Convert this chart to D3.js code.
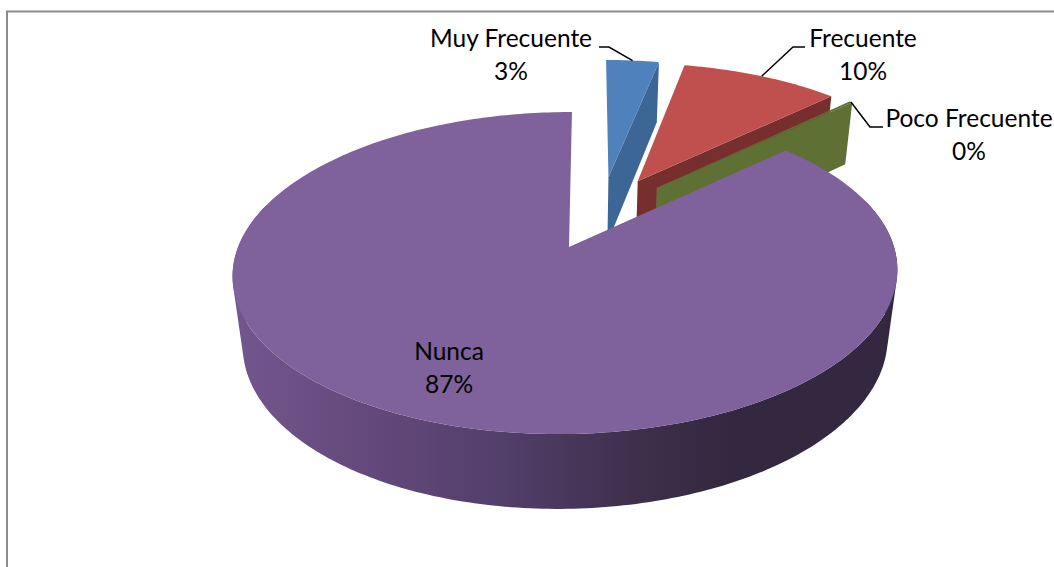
<!DOCTYPE html>
<html>
<head>
<meta charset="utf-8">
<script src="https://cdnjs.cloudflare.com/ajax/libs/d3/7.8.5/d3.min.js"></script>
<style>
  html, body { margin: 0; padding: 0; background: #fff; overflow: hidden; }
  text { font-family: Lato, "Open Sans", sans-serif; font-size: 24.5px; fill: #000; }
</style>
</head>
<body>
<div id="chart"></div>
<script>
// values (the 0% slice still has a thin sliver)
const categories = ["Muy Frecuente", "Frecuente", "Poco Frecuente", "Nunca"];
const values = [3.2, 9.65, 0.2, 86.95];
const topColors = ["#4f81bd", "#c0504d", "#5e7033", "#7f619b"];
const wallColors = ["#3c6696", "#772f2e", "#5e7033", "#5a4570"];

const width = 1054, height = 567;

const svg = d3.select("#chart").append("svg")
  .attr("width", width)
  .attr("height", height);

// frame of the chart area, it runs off the right and bottom of the crop
svg.append("path")
  .attr("d", `M7,${height}V11.5H${width}`)
  .attr("fill", "none")
  .attr("stroke", "#8c8c8c")
  .attr("stroke-width", 2);

const firstAngle = 0.6 * Math.PI / 180;
const pie = d3.pie().sort(null).value(d => d)
  .startAngle(firstAngle).endAngle(firstAngle + 2 * Math.PI)(values);

// perspective camera: u,v on the unit disc (v towards viewer), z=0 top face, z=1 bottom face
const originX = 569, radius = 328;
function project(u, v, z) {
  const w = 1 - 0.1615 * v + 0.012 * u + 0.03 * z;
  return [originX + radius * u / w, (116.9 * v + 247 + 78 * z) / w];
}

// all slices pull away from a shared centre by the same distance
const explode = 0.25;
const nunca = pie[3];
const nuncaMid = (nunca.startAngle + nunca.endAngle) / 2;
const hubU = -explode * Math.sin(nuncaMid);
const hubV = explode * Math.cos(nuncaMid);

function sliceCentre(p) {
  const mid = (p.startAngle + p.endAngle) / 2;
  return [hubU + explode * Math.sin(mid), hubV - explode * Math.cos(mid)];
}
function rimPoint(p, angle, z) {
  const c = sliceCentre(p);
  return project(c[0] + Math.sin(angle), c[1] - Math.cos(angle), z);
}
function arcAngles(a0, a1) {
  const n = Math.max(2, Math.ceil(Math.abs(a1 - a0) * 60));
  return d3.range(n + 1).map(i => a0 + (a1 - a0) * i / n);
}
function arcPoints(p, a0, a1, z) {
  return arcAngles(a0, a1).map(a => rimPoint(p, a, z));
}

const line = d3.line();

const defs = svg.append("defs");
const rimGrad = defs.append("linearGradient")
  .attr("id", "rimGrad")
  .attr("gradientUnits", "userSpaceOnUse")
  .attr("x1", 233).attr("x2", 897).attr("y1", 0).attr("y2", 0);
[[0, "#72568e"], [0.2, "#64497c"], [0.4, "#533f6b"], [0.6, "#3f2f4c"], [0.75, "#33283f"], [1, "#33283f"]]
  .forEach(s => rimGrad.append("stop").attr("offset", s[0]).attr("stop-color", s[1]));

// back to front: blue, red, green, then the big slice covers them
pie.forEach((p, i) => {
  const g = svg.append("g").attr("class", "slice");
  const c = sliceCentre(p);

  if (i < 3) {
    // cut wall facing the viewer
    const wall = [
      project(c[0], c[1], 0),
      rimPoint(p, p.endAngle, 0),
      rimPoint(p, p.endAngle, 1),
      project(c[0], c[1], 1)
    ];
    g.append("path").attr("d", line(wall) + "Z").attr("fill", wallColors[i]);
  } else {
    // outer rim: quads in one path, all wound the same way so they merge without seams
    const angles = arcAngles(p.startAngle, p.endAngle).filter(a => Math.cos(a) < 0.3);
    const rimPath = d3.pairs(angles).map(a => {
      const quad = [rimPoint(p, a[0], 0), rimPoint(p, a[1], 0), rimPoint(p, a[1], 1), rimPoint(p, a[0], 1)];
      if (d3.polygonArea(quad) < 0) quad.reverse();
      return line(quad) + "Z";
    }).join("");
    g.append("path").attr("d", rimPath).attr("fill", "url(#rimGrad)");
  }

  const face = [project(c[0], c[1], 0)].concat(arcPoints(p, p.startAngle, p.endAngle, 0));
  g.append("path").attr("d", line(face) + "Z").attr("fill", topColors[i]);
});

// labels, the first three have an elbow leader back to their slice
const pct = d3.format(".0f");
const labelX = [511, 863, 969, 449];
const labelY = [47, 47, 127, 360];
const elbows = [[[609, 47], [599, 47]], [[793, 47], [805, 47]], [[870, 127], [883, 127]]];

pie.forEach((p, i) => {
  if (i < 3) {
    const mid = (p.startAngle + p.endAngle) / 2;
    svg.append("path")
      .attr("d", line([rimPoint(p, mid, 0)].concat(elbows[i])))
      .attr("fill", "none")
      .attr("stroke", "#000")
      .attr("stroke-width", 1.5);
  }
  const t = svg.append("text").attr("text-anchor", "middle");
  t.append("tspan").attr("x", labelX[i]).attr("y", labelY[i]).text(categories[i]);
  t.append("tspan").attr("x", labelX[i]).attr("y", labelY[i] + 33).text(pct(p.value) + "%");
});
</script>
</body>
</html>
